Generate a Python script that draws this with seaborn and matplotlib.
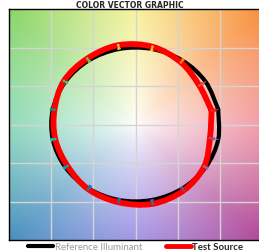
import numpy as np
import pandas as pd
import seaborn as sns
import matplotlib.pyplot as plt
from matplotlib.colors import to_rgb
from matplotlib.lines import Line2D
from matplotlib.path import Path
from matplotlib.patches import PathPatch

# hue bins (TM-30 style), bin centre angles in degrees
hue_bins = [1, 2, 3, 4, 5, 6, 7, 8, 9, 10, 11, 12, 13, 14, 15, 16]
hue_angles = [11.25, 33.75, 56.25, 78.75, 101.25, 123.75, 146.25, 168.75,
              191.25, 213.75, 236.25, 258.75, 281.25, 303.75, 326.25, 348.75]
ref_radius = [1.0, 1.0, 1.0, 1.0, 1.0, 1.0, 1.0, 1.0,
              1.0, 1.0, 1.0, 1.0, 1.0, 1.0, 1.0, 1.0]
test_radius = [0.92, 0.91, 0.97, 1.03, 1.05, 1.03, 1.02, 0.98,
               0.97, 0.97, 1.01, 1.03, 1.05, 1.03, 0.98, 0.90]
bin_colors = ['#e62828', '#e74b4b', '#fb812e', '#ffb529', '#cbca46', '#7eb94c',
              '#41c06d', '#009c7c', '#16bcb0', '#00a4bf', '#0085c3', '#3b62aa',
              '#4568ae', '#6a4e85', '#9d69a1', '#a74f81']

# background hue wheel anchors
bg_angles = [0, 45, 90, 135, 180, 225, 270, 315, 360]
bg_colors = ['#ee8090', '#f9913f', '#f5ee80', '#8cd66a', '#70d0a8',
             '#4a90c0', '#8878e0', '#b04a9a', '#ee8090']


def polygon(radius):
    ang = np.radians(hue_angles)
    df = pd.DataFrame({'x': np.array(radius) * np.cos(ang),
                       'y': np.array(radius) * np.sin(ang)})
    return pd.concat([df, df.iloc[:1]], ignore_index=True)


def smooth_path(df):
    # spreadsheet-style smoothed line through the points (open series)
    p = df[['x', 'y']].to_numpy()
    n = len(p)
    verts = [p[0]]
    codes = [Path.MOVETO]
    for i in range(n - 1):
        p0 = p[i - 1] if i > 0 else p[i]
        p3 = p[i + 2] if i + 2 < n else p[i + 1]
        c1 = p[i] + (p[i + 1] - p0) / 6
        c2 = p[i + 1] - (p3 - p[i]) / 6
        verts += [c1, c2, p[i + 1]]
        codes += [Path.CURVE4] * 3
    return Path(verts, codes)


sns.set_style('white')
plt.rcParams['font.family'] = ['Lato', 'DejaVu Sans']

fig = plt.figure(figsize=(2.59, 2.53), dpi=100)
ax = fig.add_axes([9 / 259, 1 - 241 / 253, 253 / 259, 231 / 253])

# background gradient
g = np.linspace(-1.5, 1.5, 300)
X, Y = np.meshgrid(g, g)
theta = np.degrees(np.arctan2(Y, X)) % 360
r = np.hypot(X, Y)
full = np.array([to_rgb(c) for c in bg_colors])
rgb = np.stack([np.interp(theta, bg_angles, full[:, k]) for k in range(3)], axis=-1)
t = np.clip(r / 2.1, 0, 1) ** 0.8
img = 1 - t[..., None] * (1 - rgb)
ax.imshow(img, origin='lower', extent=[-1.5, 1.5, -1.5, 1.5], aspect='auto',
          interpolation='bilinear', zorder=0)

for v in [-1.0, -0.5, 0.0, 0.5, 1.0]:
    ax.axvline(v, color='#d4d4d4', lw=1, zorder=1)
    ax.axhline(v, color='#d4d4d4', lw=1, zorder=1)

ref = polygon(ref_radius)
test = polygon(test_radius)
ax.add_patch(PathPatch(smooth_path(ref), fill=False, edgecolor='black', lw=3,
                       joinstyle='round', capstyle='round', zorder=3))
ax.add_patch(PathPatch(smooth_path(test), fill=False, edgecolor='#ff0000', lw=4.2,
                       joinstyle='round', capstyle='round', zorder=4))

# small hue arrows from reference to test
for i in range(16):
    ax.annotate('', xy=(test.x[i], test.y[i]), xytext=(ref.x[i], ref.y[i]),
                arrowprops=dict(arrowstyle='-|>', color=bin_colors[i], lw=0.8,
                                mutation_scale=5, shrinkA=0, shrinkB=0),
                zorder=5)
sns.scatterplot(x=test.x[:16], y=test.y[:16], hue=hue_bins, palette=bin_colors,
                s=4, linewidth=0, legend=False, ax=ax, zorder=5)

ax.set_xlim(-1.5, 1.5)
ax.set_ylim(-1.5, 1.5)
ax.set_xticks([])
ax.set_yticks([])
ax.set_xlabel('')
ax.set_ylabel('')
for s in ax.spines.values():
    s.set_color('black')
    s.set_linewidth(1)

fig.text(0.5, 1 - 1 / 253, 'COLOR VECTOR GRAPHIC', ha='center', va='top',
         fontsize=5.5, fontweight='bold', family=['DejaVu Sans'])

handles = [Line2D([], [], color='black', lw=3),
           Line2D([], [], color='#ff0000', lw=3.5)]
leg = fig.legend(handles, ['Reference Illuminant', 'Test Source'], loc='lower center',
                 bbox_to_anchor=(0.525, -0.03), ncol=2, frameon=False, fontsize=6.9,
                 handlelength=2.6, handletextpad=0.2, columnspacing=2.4)
leg.get_texts()[0].set_color('#9a9a9a')
leg.get_texts()[1].set_fontweight('bold')

fig.savefig('out.png', dpi=100)
